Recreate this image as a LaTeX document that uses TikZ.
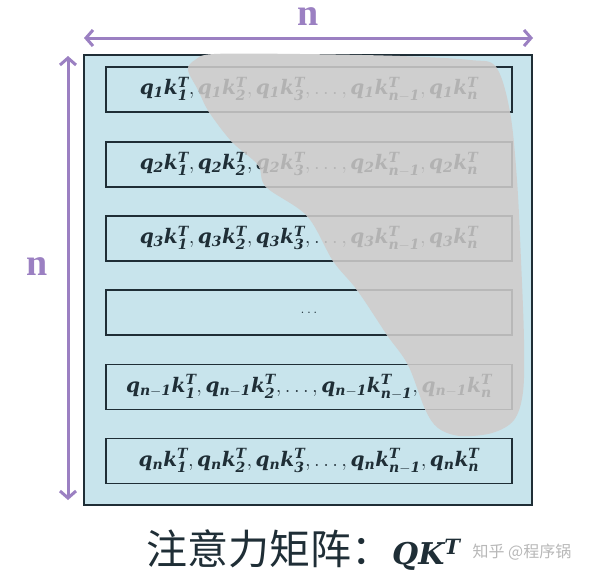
\documentclass[tikz,border=0pt]{standalone}
\usepackage{fontspec}
\usepackage{amsmath}
\newfontfamily\cjk{Noto Sans CJK SC}
\newfontfamily\libser{Liberation Serif}
\newfontfamily\djv{DejaVu Serif}[NFSSFamily=djvserif]
\DeclareMathAlphabet{\mathbi}{TU}{djvserif}{bx}{it}
\usetikzlibrary{arrows.meta}
\definecolor{bgblue}{HTML}{C8E4EC}
\definecolor{blobgray}{HTML}{CFCFCF}
\definecolor{fadegray}{HTML}{B2B2B2}
\definecolor{fadeline}{HTML}{B8B8B8}
\definecolor{purp}{HTML}{9B80C2}
\definecolor{darkc}{HTML}{1F2E36}
\newcommand{\qk}[3]{\mathbi{q_{#1}k_{#2}^{#3}}}
\newcommand{\rowA}{$\qk{1}{1}{T}, \qk{1}{2}{T}, \qk{1}{3}{T}, \ldots, \qk{1}{n-1}{T}, \qk{1}{n}{T}$}
\newcommand{\rowB}{$\qk{2}{1}{T}, \qk{2}{2}{T}, \qk{2}{3}{T}, \ldots, \qk{2}{n-1}{T}, \qk{2}{n}{T}$}
\newcommand{\rowC}{$\qk{3}{1}{T}, \qk{3}{2}{T}, \qk{3}{3}{T}, \ldots, \qk{3}{n-1}{T}, \qk{3}{n}{T}$}
\newcommand{\rowD}{{\fontsize{14}{16}\selectfont$\ldots$}}
\newcommand{\rowE}{$\qk{n-1}{1}{T}, \qk{n-1}{2}{T}, \ldots, \qk{n-1}{n-1}{T}, \qk{n-1}{n}{T}$}
\newcommand{\rowF}{$\qk{n}{1}{T}, \qk{n}{2}{T}, \qk{n}{3}{T}, \ldots, \qk{n}{n-1}{T}, \qk{n}{n}{T}$}
\tikzset{
  rowbox/.style={draw=darkc, line width=1.4pt, minimum width=406pt, minimum height=45pt,
    inner sep=0pt, text=darkc, font=\fontsize{20}{24}\selectfont},
  fadebox/.style={rowbox, draw=fadeline, text=fadegray},
  dimarrow/.style={purp, line width=3pt, line cap=round,
    {Straight Barb[length=7pt,width=16pt,line width=3pt]}-{Straight Barb[length=7pt,width=16pt,line width=3pt]}},
  dimlabel/.style={text=purp, font=\libser\fontsize{38}{42}\selectfont\bfseries, anchor=base, inner sep=0pt}
}
\begin{document}
\begin{tikzpicture}[x=1pt,y=-1pt]
\useasboundingbox[fill=white] (0,0) rectangle (600,584);
% main matrix box
\node[draw=darkc, fill=bgblue, line width=1.4pt, minimum width=448pt, minimum height=450pt, inner sep=0pt] (mat) at (308,280) {};
% rows
\node[rowbox] (r1) at (309,89.5) {\rowA};
\node[rowbox] (r2) at (309,164.5) {\rowB};
\node[rowbox] (r3) at (309,238.5) {\rowC};
\node[rowbox] (r4) at (309,312.5) {\rowD};
\node[rowbox] (r5) at (309,387) {\rowE};
\node[rowbox] (r6) at (309,461) {\rowF};
% gray blob
\fill[blobgray] plot[smooth cycle, tension=0.55] coordinates {
 (214,54) (300,54) (400,56) (470,60) (496,67) (510,112) (517,180) (521,260)
 (524,340) (523,392) (514,420) (492,433) (460,436) (438,428) (425,409)
 (408,365) (387,335) (357,290) (333,261) (307,216) (266,187) (258,165)
 (232,142) (209,112) (198,90) (188,70) (195,60)};
\begin{scope}
\clip plot[smooth cycle, tension=0.55] coordinates {
 (214,54) (300,54) (400,56) (470,60) (496,67) (510,112) (517,180) (521,260)
 (524,340) (523,392) (514,420) (492,433) (460,436) (438,428) (425,409)
 (408,365) (387,335) (357,290) (333,261) (307,216) (266,187) (258,165)
 (232,142) (209,112) (198,90) (188,70) (195,60)};
\node[fadebox] (f1) at (309,89.5) {\rowA};
\node[fadebox] (f2) at (309,164.5) {\rowB};
\node[fadebox] (f3) at (309,238.5) {\rowC};
\node[fadebox] (f4) at (309,312.5) {\rowD};
\node[fadebox] (f5) at (309,387) {\rowE};
\end{scope}
% dimension arrows
\coordinate (hl) at (84,38);
\coordinate (hr) at (533,38);
\coordinate (vt) at (68,56);
\coordinate (vb) at (68,500);
\draw[dimarrow] (hl) -- (hr);
\draw[dimarrow] (vt) -- (vb);
\node[dimlabel] (ntop) at (308,25) {n};
\node[dimlabel] (nleft) at (37,275) {n};
% caption
\node[anchor=base west, inner sep=0pt, text=darkc] (cap) at (146,564)
  {{\cjk\fontsize{41}{46}\selectfont 注意力矩阵：}{\fontsize{30}{34}\selectfont$\mathbi{QK^T}$}};
\node[text=black!28, font=\cjk\fontsize{16}{18}\selectfont] (wm) at (522,552) {知乎 @程序锅};
\end{tikzpicture}
\end{document}
